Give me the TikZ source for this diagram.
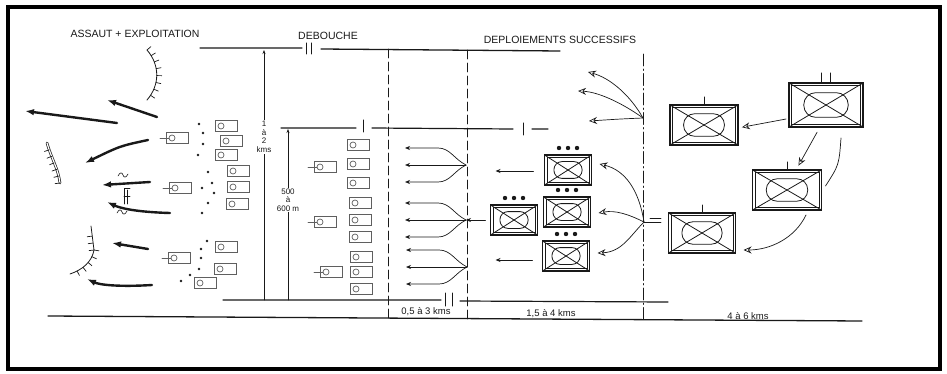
\documentclass[tikz,border=0pt]{standalone}
\usepackage{fontspec}
\setmainfont{Liberation Sans}
\usepackage{tikz}
\usetikzlibrary{calc, positioning, arrows.meta, decorations.pathreplacing}
\definecolor{ink}{RGB}{25,25,25}
\definecolor{greyink}{RGB}{95,95,95}

\begin{document}
\begin{tikzpicture}[x=1pt, y=-1pt, line cap=round, ink,
  every node/.style={inner sep=0pt, outer sep=0pt},
  title/.style={font=\fontsize{10.5}{12}\selectfont},
  dist/.style={font=\fontsize{9.5}{10}\selectfont},
  vlabel/.style={font=\fontsize{8}{8.5}\selectfont, fill=white, align=center, inner sep=1pt},
  apc/.style={draw=greyink, line width=0.8pt, minimum width=22pt, minimum height=11pt,
    path picture={\draw[greyink, line width=0.7pt] ([xshift=6pt]path picture bounding box.west) circle (3pt);}},
  unitsym/.style 2 args={draw=ink, line width=1.2pt, minimum width=#1, minimum height=#2,
    path picture={
      \draw[line width=0.6pt] ([shift={(2.5pt,-2.5pt)}]path picture bounding box.north west) rectangle ([shift={(-2.5pt,2.5pt)}]path picture bounding box.south east);
      \draw[line width=0.8pt] (path picture bounding box.north west) -- (path picture bounding box.south east)
        (path picture bounding box.north east) -- (path picture bounding box.south west);
      \draw[line width=0.8pt, rounded corners=0.27*#2] ([shift={(-0.3*#1,-0.28*#2)}]path picture bounding box.center) rectangle ([shift={(0.3*#1,0.28*#2)}]path picture bounding box.center);
    }},
  assault/.style={line width=2.4pt, -{Latex[length=9pt,width=6.5pt]}},
  thinarr/.style={line width=0.8pt, -{Stealth[length=5pt,width=4pt]}},
  openarr/.style={line width=0.7pt, -{Stealth[open,length=8pt,width=7pt]}},
  frontticks/.style={line width=0.7pt, decorate, decoration={border, segment length=7pt, amplitude=5pt, angle=90}},
  front/.style={line width=0.8pt, postaction={draw, frontticks}}
]
  \useasboundingbox (0,0) rectangle (947,374);
  \draw[line width=3.5pt, black] (8,7) rectangle (940,369);

  \node[title] (tAssaut) at (135,34) {ASSAUT + EXPLOITATION};
  \node[title] (tDeb) at (328,36) {DEBOUCHE};
  \node[title] (tDep) at (560,40) {DEPLOIEMENTS SUCCESSIFS};

  \draw[line width=1.3pt] (200,48) -- (302,48) (321,49) -- (560,51);
  \draw[line width=1pt] (306,43) -- (306,54) (311,43) -- (311,54);
  \draw[line width=1.2pt] (281,128) -- (356,128) (372,128) -- (513,129) (532,129) -- (548,129);
  \draw[line width=1pt] (363,120) -- (363,132) (523,123) -- (523,135);
  \draw[line width=1.2pt] (223,300) -- (441,300) (460,301) -- (668,302);
  \draw[line width=1pt] (445,293) -- (445,306) (452,293) -- (452,306);
  \draw[line width=1.3pt] (48,316) -- (862,321);
  \draw[line width=0.7pt, dash pattern=on 9pt off 4pt] (388,49) -- (388,320) (467,50) -- (467,320);
  \draw[line width=0.7pt, dash pattern=on 12pt off 3pt on 1.5pt off 3pt] (643,54) -- (643,322);

  \draw[line width=0.7pt, {Stealth[length=4pt,width=3pt]}-] (264,50) -- (264,300);
  \draw[line width=0.7pt, {Stealth[length=4pt,width=3pt]}-] (288,129) -- (288,300);
  \node[vlabel] (k1) at (264,137) {1\\à\\2\\kms};
  \node[vlabel] (k2) at (288,200) {500\\à\\600 m};

  \node[dist] (d1) at (426,312) {0,5 à 3 kms};
  \node[dist] (d2) at (551,314) {1,5 à 4 kms};
  \node[dist] (d3) at (748,316) {4 à 6 kms};

  \foreach \n/\x/\y in {v1/226/126, v2/231/141, v3/226/155, v4/238/171, v5/238/187, v6/237/204,
    v7/226/247, v8/225/269, v9/205/283, w1/358/145, w2/358/164, w3/358/183, w4/360/203,
    w5/360/220, w6/360/237, w7/361/257, w8/361/272, w9/361/289}
    \node[apc] (\n) at (\x,\y) {};
  \foreach \n/\x/\y in {lead1/177/138, lead2/180/188, lead3/179/258, lead4/325/167, lead5/325/222, lead6/331/272} {
    \node[apc] (\n) at (\x,\y) {};
    \draw[greyink, line width=0.8pt] ($(\n.west)+(3,0)$) -- ++(-9,0);
  }
  \foreach \x/\y in {199/124, 203/133, 203/144, 198/155, 208/172, 212/183, 202/188, 214/193,
    208/203, 202/213, 207/241, 201/249, 201/258, 199/269, 190/275, 181/281}
    \fill (\x,\y) circle (1.3pt);

  \foreach \xa/\ya/\xb/\yb in {117/123/25/111, 157/117/107/100, 150/182/102/185, 148/249/112/243}
    \draw[assault] (\xa,\ya) -- (\xb,\yb);
  \draw[assault] (148,140) .. controls (120,146) .. (85,163);
  \draw[assault] (170,213) .. controls (135,212) and (120,208) .. (107,202);
  \draw[assault] (152,285) .. controls (120,287) and (100,285) .. (87,279);

  \draw[front] (147,50) .. controls (160,65) and (160,85) .. (147,100);
  \draw[line width=0.7pt, double, double distance=1.2pt] (60,183) .. controls (58,168) and (52,160) .. (47,143);
  \draw[frontticks] (60,183) .. controls (58,168) and (52,160) .. (47,143);
  \draw[front] (94,250) -- (91,226);
  \draw[front] (94,250) .. controls (92,262) and (82,270) .. (70,274);
  \draw[line width=0.6pt] (118,176) .. controls (120,172) and (122,172) .. (123,175) .. controls (124,178) and (126,178) .. (128,174);
  \draw[line width=0.6pt] (117,213) .. controls (119,209) and (121,209) .. (122,212) .. controls (123,215) and (125,215) .. (127,211);
  \draw[line width=0.7pt] (130,188) -- (124,188) -- (124,204) (124,196) -- (130,196) (127,190) -- (127,204);

  \coordinate (fan1) at (466,165);
  \coordinate (fan2) at (466,220);
  \coordinate (fan3) at (467,267);
  \foreach \f in {fan1,fan2,fan3} {
    \foreach \dy in {-17,17}
      \draw[thinarr, line width=0.7pt] (\f) .. controls ($(\f)+(-12,{0.35*\dy})$) and ($(\f)+(-16,\dy)$) .. ($(\f)+(-28,\dy)$) -- ($(\f)+(-61,\dy)$);
    \draw[thinarr, line width=0.7pt] (\f) -- ($(\f)+(-61,0)$);
  }

  \node[unitsym={47pt}{30pt}] (dep1) at (568,170) {};
  \node[unitsym={47pt}{30pt}] (dep2) at (514,220) {};
  \node[unitsym={47pt}{30pt}] (dep3) at (567,212) {};
  \node[unitsym={47pt}{30pt}] (dep4) at (566,256) {};
  \foreach \u in {dep1,dep2,dep3,dep4}
    \foreach \dx in {-9,0,9}
      \fill ($(\u.north)+(\dx,-7)$) circle (2.2pt);

  \draw[thinarr] ($(dep1.west)+(-11,1)$) -- ++(-38,0);
  \draw[thinarr, shorten <=5pt] (dep2.west) -- (fan2);
  \draw[thinarr] ($(dep4.west)+(-10,4)$) -- ++(-37,0);

  \node[unitsym={68pt}{40pt}] (res1) at (704,125) {};
  \node[unitsym={74pt}{44pt}] (res2) at (826,105) {};
  \node[unitsym={69pt}{40pt}] (res3) at (787,190) {};
  \node[unitsym={67pt}{40pt}] (res4) at (702,233) {};
  \foreach \u in {res1,res3,res4}
    \draw[line width=1pt] (\u.north) -- ++(0,-8);
  \draw[line width=1pt] ([xshift=-4.5pt]res2.north) -- ++(0,-10) ([xshift=4.5pt]res2.north) -- ++(0,-10);

  \draw[openarr, shorten <=3pt, shorten >=4pt] (res2.200) -- (res1.-5);
  \draw[openarr, shorten <=6pt, shorten >=5pt] ([xshift=-6pt]res2.south) -- ([xshift=9pt]res3.north);
  \draw[line width=0.7pt] ($(res2.south)+(15,11)$) .. controls ($(res2.south)+(13,38)$) .. ($(res3.east)+(4,-4)$);
  \draw[openarr] ($(res3.south)+(19,5)$) .. controls ($(res3.south)+(8,28)$) and ($(res4.east)+(35,17)$) .. ($(res4.east)+(8,17)$);

  \coordinate (sprT) at (643,118);
  \draw[openarr] (sprT) .. controls (630,95) and (610,78) .. (588,72);
  \draw[openarr] (sprT) .. controls (625,105) and (600,92) .. (578,91);
  \draw[openarr] (sprT) .. controls (620,119) .. (589,121);

  \coordinate (sprB) at (644,222);
  \draw[line width=0.7pt] (sprB) -- ++(17,0) ($(sprB)+(6,-4)$) -- ++(11,0);
  \draw[openarr] (sprB) .. controls (639,190) and (625,170) .. ($(dep1.east)+(8,-6)$);
  \draw[openarr] (sprB) .. controls (628,214) and (615,210) .. ($(dep3.east)+(8,1)$);
  \draw[openarr] (sprB) .. controls (630,236) and (622,252) .. ($(dep4.east)+(8,-3)$);
\end{tikzpicture}
\end{document}
